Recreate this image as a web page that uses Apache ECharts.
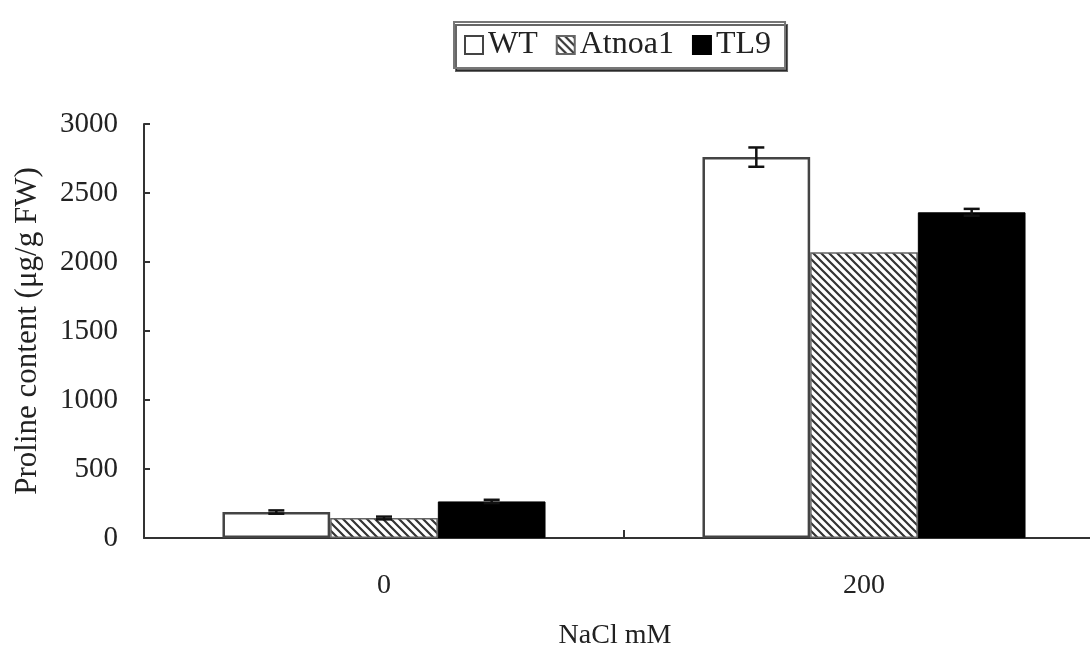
<!DOCTYPE html>
<html>
<head>
<meta charset="utf-8">
<script src="https://cdn.jsdelivr.net/npm/echarts@6/dist/echarts.min.js"></script>
<style>
  html, body { margin: 0; padding: 0; background: #fff; }
  #chart { width: 1090px; height: 648px; }
</style>
</head>
<body>
<div id="chart"></div>
<script>
const categories = ["0", "200"];
const seriesNames = ["WT", "Atnoa1", "TL9"];
const wtValues = [188, 2760];
const atnoaValues = [145, 2070];
const tl9Values = [265, 2360];
const wtErrors = [12, 70];
const atnoaErrors = [10, 0];
const tl9Errors = [12, 25];
const yTicks = [0, 500, 1000, 1500, 2000, 2500, 3000];

const font = "'Liberation Serif', 'DejaVu Serif', serif";
const barGapRatio = 0.327;

// diagonal hatch fill
function hatch() {
  const c = document.createElement("canvas");
  c.width = 8;
  c.height = 8;
  const ctx = c.getContext("2d");
  ctx.fillStyle = "#fff";
  ctx.fillRect(0, 0, 8, 8);
  ctx.strokeStyle = "#333";
  ctx.lineWidth = 2.2;
  ctx.beginPath();
  ctx.moveTo(-2, -2); ctx.lineTo(10, 10);
  ctx.moveTo(-6, 2); ctx.lineTo(2, 10);
  ctx.moveTo(6, -2); ctx.lineTo(10, 2);
  ctx.stroke();
  return { image: c, repeat: "repeat" };
}

const values = [wtValues, atnoaValues, tl9Values];
const errors = [wtErrors, atnoaErrors, tl9Errors];

function errorSeries(idx) {
  return {
    type: "custom",
    name: seriesNames[idx] + " err",
    z: 10,
    silent: true,
    data: categories.map((c, i) => [i, values[idx][i], errors[idx][i]]),
    renderItem: function (params, api) {
      const err = api.value(2);
      if (!err) return;
      const band = api.size([1, 0])[0];
      const barW = band * (1 - barGapRatio) / 3;
      const center = api.coord([api.value(0), api.value(1)]);
      const x = center[0] + (idx - 1) * barW;
      const hi = api.coord([api.value(0), api.value(1) + err])[1];
      const lo = api.coord([api.value(0), api.value(1) - err])[1];
      const cap = 8;
      const style = { stroke: "#111", lineWidth: 2.5 };
      return {
        type: "group",
        children: [
          { type: "line", shape: { x1: x, y1: hi, x2: x, y2: lo }, style: style },
          { type: "line", shape: { x1: x - cap, y1: hi, x2: x + cap, y2: hi }, style: style },
          { type: "line", shape: { x1: x - cap, y1: lo, x2: x + cap, y2: lo }, style: style }
        ]
      };
    }
  };
}

const chart = echarts.init(document.getElementById("chart"));
chart.setOption({
  animation: false,
  backgroundColor: "#fff",
  textStyle: { fontFamily: font, color: "#222" },
  legend: {
    data: seriesNames.map(n => ({ name: n, icon: "rect" })),
    top: 22,
    left: 454,
    itemWidth: 18,
    itemHeight: 18,
    itemGap: 18,
    padding: [7, 14, 7, 10],
    borderColor: "#777",
    borderWidth: 2,
    shadowColor: "rgba(0,0,0,0.6)",
    shadowOffsetX: 2,
    shadowOffsetY: 3,
    backgroundColor: "#fff",
    textStyle: { fontFamily: font, fontSize: 32, color: "#222" }
  },
  grid: {
    left: 144,
    top: 124,
    width: 960,
    bottom: 110,
    containLabel: false,
    outerBoundsMode: "none"
  },
  xAxis: {
    type: "category",
    data: categories,
    name: "NaCl mM",
    nameLocation: "middle",
    nameGap: 84,
    nameTextStyle: { fontFamily: font, fontSize: 28, color: "#222", padding: [0, 18, 0, 0] },
    axisLine: { lineStyle: { color: "#333", width: 2 } },
    axisTick: { show: true, inside: true, length: 8, lineStyle: { color: "#333", width: 2 } },
    axisLabel: { fontFamily: font, fontSize: 28, color: "#222", margin: 34 }
  },
  yAxis: {
    type: "value",
    min: 0,
    max: 3000,
    interval: 500,
    name: "Proline content (μg/g FW)",
    nameLocation: "middle",
    nameGap: 101,
    nameRotate: 90,
    nameTextStyle: { fontFamily: font, fontSize: 31, color: "#222" },
    axisLine: { show: true, lineStyle: { color: "#333", width: 2 } },
    axisTick: { show: true, inside: true, length: 6, lineStyle: { color: "#333", width: 2 } },
    axisLabel: {
      fontFamily: font, fontSize: 29, color: "#222", margin: 26,
      formatter: v => (yTicks.includes(v) ? String(v) : "")
    },
    splitLine: { show: false }
  },
  series: [
    {
      name: "WT",
      type: "bar",
      data: wtValues,
      barGap: "0%",
      barCategoryGap: (barGapRatio * 100) + "%",
      itemStyle: { color: "#fff", borderColor: "#444", borderWidth: 2.5 }
    },
    {
      name: "Atnoa1",
      type: "bar",
      data: atnoaValues,
      barGap: "0%",
      barCategoryGap: (barGapRatio * 100) + "%",
      itemStyle: { color: hatch(), borderColor: "#666", borderWidth: 1.5 }
    },
    {
      name: "TL9",
      type: "bar",
      data: tl9Values,
      barGap: "0%",
      barCategoryGap: (barGapRatio * 100) + "%",
      itemStyle: { color: "#000", borderColor: "#000", borderWidth: 1 }
    },
    errorSeries(0),
    errorSeries(1),
    errorSeries(2)
  ]
});
</script>
</body>
</html>
